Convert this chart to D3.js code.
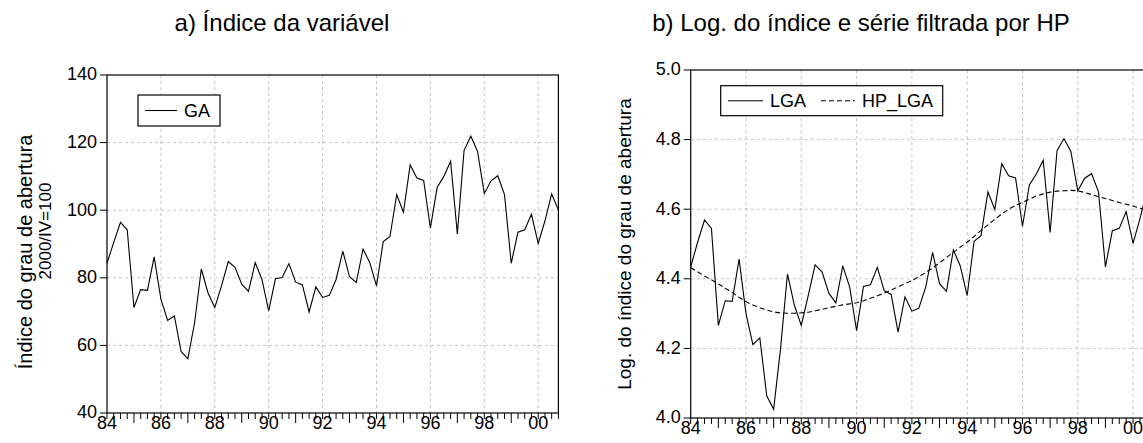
<!DOCTYPE html>
<html>
<head>
<meta charset="utf-8">
<script src="https://cdn.jsdelivr.net/npm/d3@7"></script>
<style>
  body { margin: 0; background: #fff; }
  text { font-family: "Liberation Sans", Arial, sans-serif; fill: #000; }
</style>
</head>
<body>
<svg id="chart" width="1143" height="443"></svg>
<script>
// quarterly observations 1984Q1 .. 2000Q4
const startYear = 1984, nObs = 68;
const quarters = d3.range(nObs).map(i => startYear + i / 4);

// grau de abertura, 2000/IV = 100
const ga = [
  84.3, 90.5, 96.4, 94.2, 71.2, 76.5, 76.3, 86.2,
  73.7, 67.4, 68.7, 58.2, 56.0, 66.7, 82.6, 75.5,
  71.2, 77.6, 84.8, 83.1, 78.1, 76.0, 84.5, 79.5,
  70.2, 79.7, 80.1, 84.2, 78.7, 77.9, 69.9, 77.3,
  74.2, 74.8, 79.5, 87.9, 80.3, 78.6, 88.5, 84.5,
  77.6, 90.7, 92.2, 104.6, 99.4, 113.4, 109.5, 108.8,
  94.7, 106.7, 110.0, 114.5, 93.0, 117.7, 121.9, 117.4,
  104.9, 108.7, 110.2, 104.6, 84.3, 93.5, 94.2, 98.8,
  90.2, 96.8, 104.8, 100.1
];

// log of the index
const lga = [
  4.434, 4.505, 4.569, 4.545, 4.266, 4.337, 4.335, 4.457,
  4.300, 4.211, 4.230, 4.064, 4.025, 4.200, 4.414, 4.324,
  4.266, 4.352, 4.440, 4.420, 4.358, 4.331, 4.437, 4.376,
  4.251, 4.378, 4.383, 4.433, 4.366, 4.355, 4.247, 4.348,
  4.307, 4.315, 4.376, 4.476, 4.386, 4.364, 4.483, 4.437,
  4.352, 4.508, 4.524, 4.650, 4.599, 4.731, 4.696, 4.690,
  4.551, 4.670, 4.701, 4.741, 4.533, 4.768, 4.803, 4.766,
  4.653, 4.689, 4.702, 4.650, 4.434, 4.538, 4.545, 4.593,
  4.502, 4.573, 4.652, 4.606
];

// Hodrick-Prescott trend of lga
const hpLga = [
  4.432, 4.420, 4.408, 4.397, 4.385, 4.373, 4.361, 4.347,
  4.334, 4.325, 4.317, 4.310, 4.305, 4.302, 4.301, 4.301,
  4.302, 4.304, 4.308, 4.312, 4.317, 4.321, 4.325, 4.328,
  4.331, 4.337, 4.344, 4.351, 4.359, 4.368, 4.377, 4.386,
  4.395, 4.406, 4.418, 4.431, 4.446, 4.461, 4.476, 4.491,
  4.505, 4.522, 4.539, 4.555, 4.571, 4.586, 4.600, 4.611,
  4.620, 4.629, 4.638, 4.644, 4.649, 4.652, 4.653, 4.654,
  4.653, 4.648, 4.642, 4.636, 4.631, 4.625, 4.619, 4.614,
  4.609, 4.603, 4.598, 4.593
];

const yearLabels = [1984, 1986, 1988, 1990, 1992, 1994, 1996, 1998, 2000];
const gaTicks = [40, 60, 80, 100, 120, 140];
const lgaTicks = [4.0, 4.2, 4.4, 4.6, 4.8, 5.0];

const svg = d3.select("#chart");
const xDomain = [startYear, quarters[nObs - 1]];

function drawPanel(p) {
  const x = d3.scaleLinear().domain(xDomain).range([p.left, p.right]);
  const y = d3.scaleLinear().domain(p.yDomain).range([p.bottom, p.top]);
  const g = svg.append("g");

  // grid
  g.selectAll(".vgrid")
    .data(yearLabels.slice(1))
    .enter().append("line")
    .attr("x1", d => x(d)).attr("x2", d => x(d))
    .attr("y1", p.top).attr("y2", p.bottom)
    .attr("stroke", "#c4c4c4").attr("stroke-dasharray", "3,3");

  g.selectAll(".hgrid")
    .data(p.yTicks.slice(1, -1))
    .enter().append("line")
    .attr("x1", p.left).attr("x2", p.right)
    .attr("y1", d => y(d)).attr("y2", d => y(d))
    .attr("stroke", "#c4c4c4").attr("stroke-dasharray", "3,3");

  // series
  const line = d3.line().x((d, i) => x(quarters[i])).y(d => y(d));
  p.series.forEach(s => {
    g.append("path")
      .datum(s.values)
      .attr("fill", "none")
      .attr("stroke", "#000")
      .attr("stroke-width", 1.1)
      .attr("stroke-dasharray", s.dash || null)
      .attr("d", line);
  });

  // frame
  g.append("rect")
    .attr("x", p.left).attr("y", p.top)
    .attr("width", p.right - p.left).attr("height", p.bottom - p.top)
    .attr("fill", "none").attr("stroke", "#000").attr("stroke-width", 1.2);

  // x ticks: every quarter, longer at unlabeled years
  g.selectAll(".xtick")
    .data(quarters)
    .enter().append("line")
    .attr("x1", d => x(d)).attr("x2", d => x(d))
    .attr("y1", p.bottom)
    .attr("y2", d => p.bottom + (Number.isInteger(d) && d % 2 === 1 ? 10 : 6))
    .attr("stroke", "#000");

  g.selectAll(".xlab")
    .data(yearLabels)
    .enter().append("text")
    .attr("x", d => x(d))
    .attr("y", p.bottom + 16)
    .attr("text-anchor", "middle")
    .attr("font-size", 18)
    .text(d => String(d).slice(2));

  // y ticks
  g.selectAll(".ytick")
    .data(p.yTicks)
    .enter().append("line")
    .attr("x1", p.left - 7).attr("x2", p.left)
    .attr("y1", d => y(d)).attr("y2", d => y(d))
    .attr("stroke", "#000");

  g.selectAll(".ylab")
    .data(p.yTicks)
    .enter().append("text")
    .attr("x", p.left - 10)
    .attr("y", d => y(d))
    .attr("dy", "0.3em")
    .attr("text-anchor", "end")
    .attr("font-size", 18)
    .text(p.yFormat);

  // title
  svg.append("text")
    .attr("x", p.titleX).attr("y", 31)
    .attr("text-anchor", "middle")
    .attr("font-size", 24)
    .text(p.title);

  // y axis label (one entry per line)
  p.yLabel.forEach(l => {
    svg.append("text")
      .attr("transform", `translate(${l.x},${l.y}) rotate(-90)`)
      .attr("text-anchor", "middle")
      .attr("font-size", l.size)
      .text(l.text);
  });

  // legend
  const lg = svg.append("g");
  lg.append("rect")
    .attr("x", p.legend.x).attr("y", p.legend.y)
    .attr("width", p.legend.w).attr("height", p.legend.h)
    .attr("fill", "#fff").attr("stroke", "#000").attr("stroke-width", 1.2);
  p.series.forEach((s, i) => {
    const item = p.legend.items[i];
    const cy = p.legend.y + p.legend.h / 2;
    lg.append("line")
      .attr("x1", item.x).attr("x2", item.x + item.len)
      .attr("y1", cy).attr("y2", cy)
      .attr("stroke", "#000").attr("stroke-width", 1.1)
      .attr("stroke-dasharray", s.dash || null);
    lg.append("text")
      .attr("x", item.x + item.len + 7).attr("y", cy)
      .attr("dy", "0.36em")
      .attr("font-size", 18)
      .text(s.name);
  });
}

drawPanel({
  left: 107, right: 558.4, top: 75, bottom: 413,
  yDomain: [40, 140], yTicks: gaTicks, yFormat: d => d,
  series: [{ name: "GA", values: ga }],
  title: "a) Índice da variável", titleX: 282,
  yLabel: [
    { text: "Índice do grau de abertura", x: 32, y: 252, size: 20 },
    { text: "2000/IV=100", x: 51, y: 231, size: 17 }
  ],
  legend: { x: 138, y: 95, w: 82, h: 31, items: [{ x: 145, len: 32 }] }
});

drawPanel({
  left: 690.7, right: 1153.8, top: 70, bottom: 418,
  yDomain: [4.0, 5.0], yTicks: lgaTicks, yFormat: d3.format(".1f"),
  series: [{ name: "LGA", values: lga }, { name: "HP_LGA", values: hpLga, dash: "5,3" }],
  title: "b) Log. do índice e série filtrada por HP", titleX: 861,
  yLabel: [{ text: "Log. do índice do grau de abertura", x: 631, y: 244, size: 19 }],
  legend: { x: 720.7, y: 85.7, w: 222, h: 30, items: [{ x: 728, len: 35 }, { x: 821, len: 34 }] }
});
</script>
</body>
</html>
